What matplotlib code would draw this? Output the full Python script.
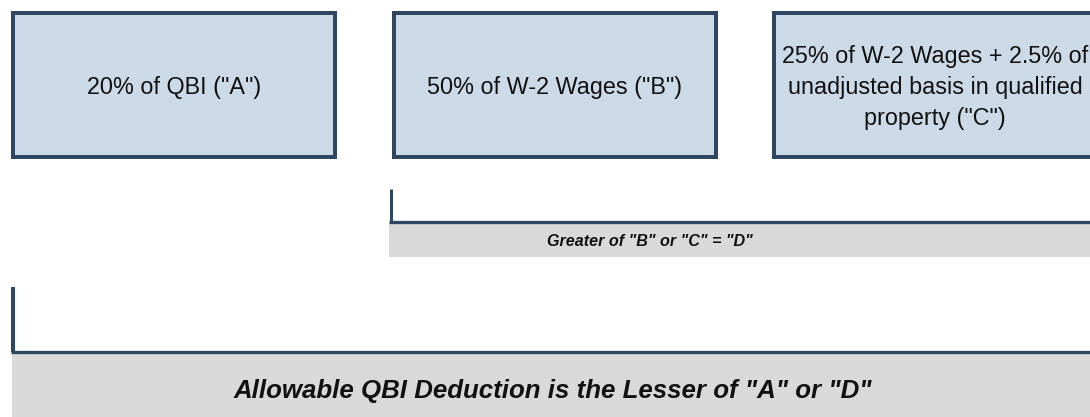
import matplotlib
matplotlib.use("Agg")
import matplotlib.pyplot as plt
from matplotlib.patches import Rectangle
from matplotlib import font_manager

# ---- content ----
box_labels = [
    '20% of QBI ("A")',
    '50% of W-2 Wages ("B")',
    '25% of W-2 Wages + 2.5% of\nunadjusted basis in qualified\nproperty ("C")',
]
band_labels = [
    'Greater of "B" or "C" = "D"',
    'Allowable QBI Deduction is the Lesser of "A" or "D"',
]

# ---- styling / layout ----
W, H = 1090, 417
border = "#2E4661"
fill = "#CCD9E6"
gray = "#D9D9D9"
font = ["Liberation Sans", "DejaVu Sans"]
names = {f.name for f in font_manager.fontManager.ttflist}
narrow_ok = "Liberation Sans Narrow" in names
narrow = ["Liberation Sans Narrow", "Liberation Sans", "DejaVu Sans"]

fig = plt.figure(figsize=(W / 100, H / 100), dpi=100)
ax = fig.add_axes([0, 0, 1, 1])
ax.set_xlim(0, W)
ax.set_ylim(H, 0)
ax.axis("off")

px = 72 / 100  # points per pixel

box_left = [13, 394, 774]
box_w, box_top, box_h = 322, 13, 144
for x0, lab in zip(box_left, box_labels):
    ax.add_patch(Rectangle((x0, box_top), box_w, box_h, facecolor=fill,
                           edgecolor=border, linewidth=4 * px, zorder=2))
    lines = lab.split("\n")
    cx = x0 + box_w / 2
    n = len(lines)
    spacing = 31
    base_mid = 93.5
    for i, ln in enumerate(lines):
        yb = base_mid + (i - (n - 1) / 2) * spacing
        ax.text(cx, yb, ln, ha="center", va="baseline", fontsize=16.8,
                family=font, color="#111111", zorder=3)

# bracket 1 : Greater of B or C
ax.add_patch(Rectangle((389, 223), W - 389 + 20, 34, facecolor=gray,
                       edgecolor="none", zorder=1))
ax.plot([390.7, 390.7], [189, 221.7], color=border, lw=3 * px,
        solid_capstyle="butt", zorder=2)
ax.plot([389.2, W + 10], [221.7, 221.7], color=border, lw=3.3 * px,
        solid_capstyle="butt", zorder=2)
ax.text(650, 245.5, band_labels[0], ha="center", va="baseline",
        fontsize=14 if narrow_ok else 11.6, fontweight="bold",
        fontstyle="italic", family=narrow if narrow_ok else font,
        color="#111111", zorder=3)

# bracket 2 : Allowable deduction
ax.add_patch(Rectangle((12, 353), W, 70, facecolor=gray,
                       edgecolor="none", zorder=1))
ax.plot([13, 13], [286.7, 351.7], color=border, lw=4 * px,
        solid_capstyle="butt", zorder=2)
ax.plot([11, W + 10], [351.7, 351.7], color=border, lw=3.3 * px,
        solid_capstyle="butt", zorder=2)
ax.text(553, 398, band_labels[1], ha="center", va="baseline",
        fontsize=18.6, fontweight="bold", fontstyle="italic", family=font,
        color="#111111", zorder=3)

fig.savefig("out.png", dpi=100, facecolor="white")
